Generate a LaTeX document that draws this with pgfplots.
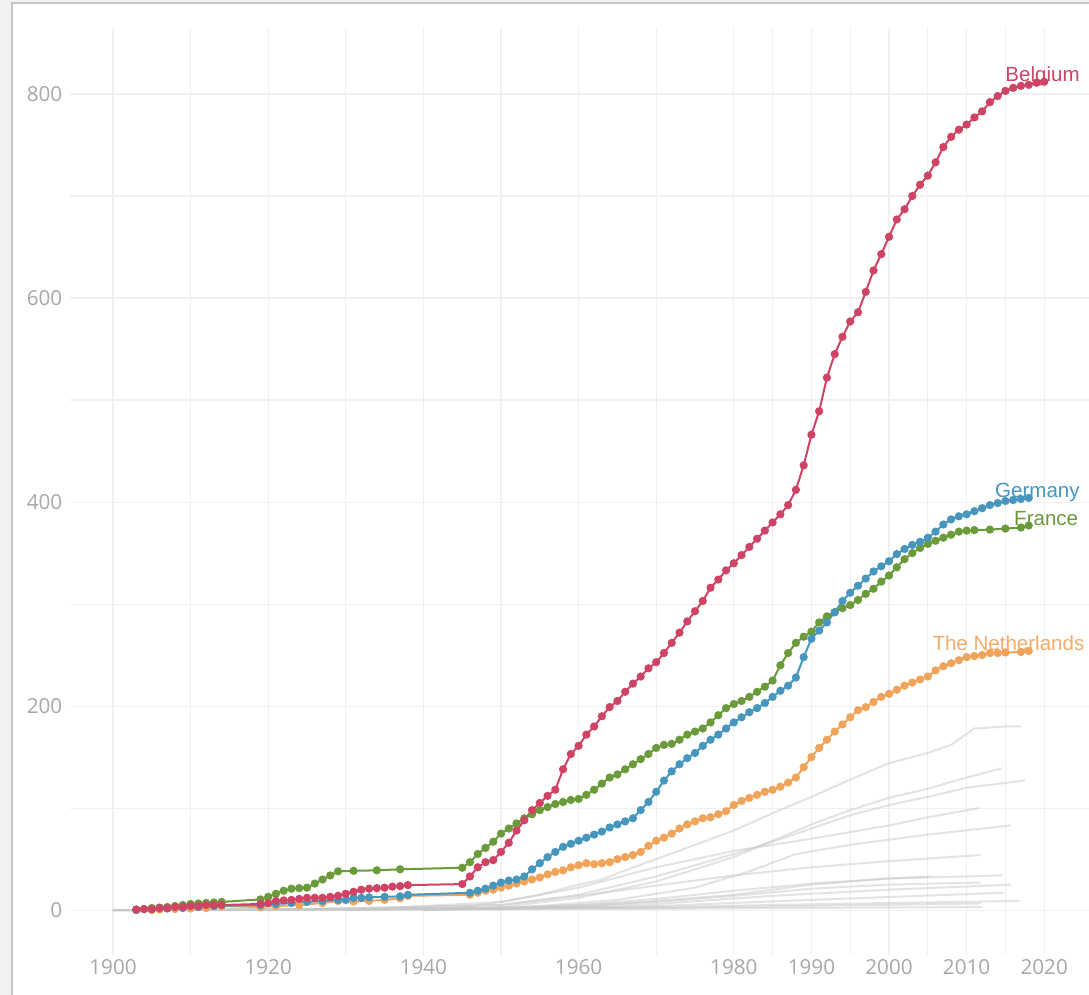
\documentclass[border=0pt]{standalone}
\usepackage{pgfplots}
\pgfplotsset{compat=1.18}
\usepackage{fontspec}
\setmainfont{Open Sans}
\newfontfamily\labfont{Liberation Sans}
\definecolor{bel}{HTML}{CF4364}
\definecolor{ger}{HTML}{4796BE}
\definecolor{fra}{HTML}{6A9A3A}
\definecolor{ned}{HTML}{F0A45A}
\definecolor{grayl}{HTML}{C8C8C8}
\definecolor{gridc}{HTML}{F0F0F0}
\definecolor{tickc}{HTML}{A8A8A8}
\definecolor{bgc}{HTML}{F2F2F2}
\definecolor{framec}{HTML}{C6C6C6}
\begin{document}
\begin{tikzpicture}
\fill[bgc] (0,0) rectangle (816.75pt,746.25pt);
\useasboundingbox (0,0) rectangle (816.75pt,746.25pt);
\fill[white] (9pt,0) rectangle (816.75pt,744pt);
\draw[framec, line width=1.8pt] (9pt,0) -- (9pt,744pt) -- (816.75pt,744pt);
\begin{axis}[
  at={(52.5pt,30pt)}, anchor=south west,
  scale only axis, width=764.25pt, height=695.25pt,
  xmin=1894.46, xmax=2025.77, ymin=-44, ymax=864.7,
  axis line style={draw=none}, major tick length=0pt, minor tick length=0pt,
  xtick={1900,1920,1940,1960,1980,1990,2000,2010,2020},
  minor xtick={1910,1930,1950,1970,1985,1995,2005,2015},
  ytick={0,200,400,600,800}, minor ytick={100,300,500,700},
  grid=both,
  major grid style={gridc, line width=0.8pt},
  minor grid style={gridc, line width=0.8pt},
  ticklabel style={font=\fontsize{15.5}{18}\selectfont, text=tickc},
  /pgf/number format/assume math mode=true,
  /pgf/number format/1000 sep={},
  yticklabel style={xshift=-2.3pt},
  clip=false,
]
% other countries
\addplot[grayl, line width=1.5pt, opacity=0.5] coordinates {(1945,3)(1950,8)(1955,15)(1960,25)(1963,30)(1965,36)(1970,50)(1975,64)(1980,78)(1985,95)(1990,111)(1995,128)(2000,144)(2005,154)(2008,162)(2011,178)(2015,180)(2017,180)};
\addplot[grayl, line width=1.5pt, opacity=0.5] coordinates {(1930,0)(1950,3)(1960,12)(1970,28)(1975,40)(1980,52)(1985,68)(1990,84)(1995,98)(2000,110)(2005,119)(2010,130)(2014.5,139)};
\addplot[grayl, line width=1.5pt, opacity=0.5] coordinates {(1920,0)(1950,5)(1960,15)(1970,33)(1980,55)(1985,67)(1990,80)(1995,93)(2000,103)(2005,111)(2010,120)(2017.5,127)};
\addplot[grayl, line width=1.5pt, opacity=0.5] coordinates {(1930,0)(1950,8)(1960,22)(1970,42)(1980,58)(1990,70)(2000,83)(2005,91)(2011.6,100)};
\addplot[grayl, line width=1.5pt, opacity=0.5] coordinates {(1940,0)(1955,4)(1965,10)(1975,22)(1982,38)(1988,55)(1995,64)(2005,74)(2015.7,83)};
\addplot[grayl, line width=1.5pt, opacity=0.5] coordinates {(1920,0)(1950,5)(1960,14)(1970,24)(1980,34)(1990,42)(2000,48)(2011.8,54)};
\addplot[grayl, line width=1.5pt, opacity=0.5] coordinates {(1900,0)(1950,2)(1960,5)(1970,11)(1980,19)(1990,26)(2000,31)(2014.6,34)};
\addplot[grayl, line width=1.5pt, opacity=0.5] coordinates {(1940,0)(1960,3)(1980,15)(1990,25)(2000,31)(2005.5,33)};
\addplot[grayl, line width=1.5pt, opacity=0.5] coordinates {(1900,0)(1950,2)(1970,8)(1980,14)(1990,21)(2000,25)(2011.8,27)};
\addplot[grayl, line width=1.5pt, opacity=0.5] coordinates {(1900,0)(1950,1)(1970,6)(1985,14)(2000,20)(2015.7,25)};
\addplot[grayl, line width=1.5pt, opacity=0.5] coordinates {(1900,0)(1950,1)(1970,4)(1990,10)(2014.8,17)};
\addplot[grayl, line width=1.5pt, opacity=0.5] coordinates {(1900,0)(1970,3)(2000,7)(2016.8,9)};
\addplot[grayl, line width=1.5pt, opacity=0.5] coordinates {(1900,0)(1970,2)(2011.8,6.5)};
\addplot[grayl, line width=1.5pt, opacity=0.5] coordinates {(1900,0)(1960,1)(2012,3)};
% The Netherlands
\addplot[ned, line width=1.5pt, mark=*, mark size=2.3pt, mark options={solid,fill=ned,draw=ned}] coordinates {
(1905,0)(1906,0.5)(1908,1)(1910,1.5)(1912,2)(1914,4)(1919,3)(1921,4)(1924,5)(1927,7)(1929,9)(1931,8.5)(1933,9)(1935,10)(1937,11.5)(1938,14)
(1946,15)(1947,17)(1948,19)(1949,20)(1950,22)(1951,24)(1952,26)(1953,28)(1954,30)(1955,32)(1956,35)(1957,37.5)(1958,39)(1959,42)
(1960,44)(1961,46)(1962,45)(1963,46)(1964,47)(1965,50)(1966,52)(1967,54)(1968,57)(1969,63)(1970,68)(1971,71)(1972,75)(1973,80)(1974,84)
(1975,87)(1976,90)(1977,91)(1978,94)(1979,97)(1980,103)(1981,107)(1982,110)(1983,113)(1984,116)(1985,118)(1986,121)(1987,125)(1988,130)(1989,140)
(1990,150)(1991,159)(1992,167)(1993,175)(1994,182)(1995,189)(1996,196)(1997,199)(1998,204)(1999,209)(2000,212)(2001,216)(2002,220)(2003,223)(2004,226)
(2005,229)(2006,235)(2007,239)(2008,242)(2009,245)(2010,248)(2011,249)(2012,250)(2013,252)(2014,252)(2015,252.5)(2017,253)(2018,254)};
% France
\addplot[fra, line width=1.5pt, mark=*, mark size=2.3pt, mark options={solid,fill=fra,draw=fra}] coordinates {
(1903,0.5)(1904,1)(1905,2)(1906,2.5)(1907,3)(1908,4)(1909,5)(1910,6)(1911,6.5)(1912,7)(1913,7.5)(1914,8)
(1919,10.5)(1920,13)(1921,16)(1922,19)(1923,21)(1924,21.5)(1925,22)(1926,26)(1927,30)(1928,34)(1929,38)(1931,38.5)(1934,39)(1937,40)
(1945,41.5)(1946,47)(1947,55)(1948,61)(1949,67)(1950,75)(1951,80)(1952,85)(1953,90)(1954,94)(1955,98)(1956,101)(1957,104)(1958,106)(1959,108)
(1960,109)(1961,113)(1962,118)(1963,124)(1964,130)(1965,133)(1966,138)(1967,143)(1968,148)(1969,153)(1970,159)(1971,162)(1972,163)(1973,167)(1974,172)
(1975,175)(1976,178)(1977,184)(1978,191)(1979,198)(1980,202)(1981,205)(1982,209)(1983,214)(1984,219)(1985,225)(1986,240)(1987,252)(1988,262)(1989,268)
(1990,273)(1991,282)(1992,288)(1993,292)(1994,296)(1995,299)(1996,304)(1997,310)(1998,315)(1999,322)(2000,328)(2001,336)(2002,344)(2003,350)(2004,355)
(2005,359)(2006,362)(2007,365)(2008,368)(2009,371)(2010,372)(2011,372.5)(2013,373)(2015,374)(2017,375)(2018,377)};
% Germany
\addplot[ger, line width=1.5pt, mark=*, mark size=2.3pt, mark options={solid,fill=ger,draw=ger}] coordinates {
(1903,0)(1905,1)(1907,1.5)(1909,2)(1911,3)(1913,4)(1919,5)(1921,6)(1923,7)(1925,8)(1927,9)(1929,10)(1930,10)(1931,12)(1932,12)(1933,12.5)(1935,13)(1937,13.5)(1938,15)
(1946,17)(1947,19)(1948,21)(1949,24)(1950,27)(1951,29)(1952,30)(1953,33)(1954,40)(1955,46)(1956,52)(1957,57)(1958,62)(1959,65)
(1960,68)(1961,71)(1962,74)(1963,77)(1964,81)(1965,84)(1966,87)(1967,90)(1968,98)(1969,106)(1970,116)(1971,127)(1972,136)(1973,143)(1974,149)
(1975,154)(1976,161)(1977,167)(1978,172)(1979,178)(1980,184)(1981,189)(1982,194)(1983,198)(1984,203)(1985,209)(1986,215)(1987,220)(1988,228)(1989,248)
(1990,266)(1991,274)(1992,282)(1993,292)(1994,303)(1995,311)(1996,318)(1997,325)(1998,332)(1999,337)(2000,342)(2001,349)(2002,354)(2003,358)(2004,361)
(2005,365)(2006,371)(2007,378)(2008,383)(2009,386)(2010,388)(2011,391)(2012,394)(2013,397)(2014,399)(2015,401)(2016,402)(2017,403)(2018,404)};
% Belgium
\addplot[bel, line width=1.5pt, mark=*, mark size=2.3pt, mark options={solid,fill=bel,draw=bel}] coordinates {
(1903,0.5)(1904,1)(1905,1)(1906,2)(1907,2)(1908,3)(1909,3)(1910,4)(1911,4)(1912,5)(1913,5)(1914,5)
(1919,6)(1920,7)(1921,9)(1922,9.5)(1923,10)(1924,11)(1925,12)(1926,12)(1927,12)(1928,13)(1929,14)(1930,16)(1931,18)(1932,20)(1933,21)(1934,21.5)(1935,22)(1936,23)(1937,23.5)(1938,24.5)
(1945,25.5)(1946,33)(1947,42)(1948,47)(1949,49)(1950,57)(1951,66)(1952,78)(1953,88)(1954,98)(1955,105)(1956,112)(1957,118)(1958,138)(1959,153)
(1960,161)(1961,172)(1962,180)(1963,190)(1964,199)(1965,205)(1966,214)(1967,222)(1968,229)(1969,237)(1970,243)(1971,252)(1972,262)(1973,272)(1974,283)
(1975,293)(1976,303)(1977,316)(1978,324)(1979,333)(1980,340)(1981,348)(1982,356)(1983,364)(1984,372)(1985,380)(1986,388)(1987,397)(1988,412)(1989,436)
(1990,466)(1991,489)(1992,522)(1993,545)(1994,562)(1995,577)(1996,586)(1997,606)(1998,627)(1999,643)(2000,660)(2001,677)(2002,687)(2003,700)(2004,711)
(2005,720)(2006,733)(2007,748)(2008,758)(2009,765)(2010,770)(2011,777)(2012,783)(2013,792)(2014,798)(2015,803)(2016,806)(2017,808)(2018,809)(2019,811)(2020,812)};
% labels
\node[anchor=base east, text=bel, font=\labfont\fontsize{15.4}{18}\selectfont, inner sep=0pt] at (axis cs:2024.6,812) {Belgium};
\node[anchor=base east, text=ger, font=\labfont\fontsize{15.4}{18}\selectfont, inner sep=0pt] at (axis cs:2024.6,404) {Germany};
\node[anchor=base east, text=fra, font=\labfont\fontsize{15.4}{18}\selectfont, inner sep=0pt] at (axis cs:2024.4,377) {France};
\node[anchor=base east, text=ned!90!white, font=\labfont\fontsize{15.4}{18}\selectfont, inner sep=0pt] at (axis cs:2025.2,254) {The Netherlands};
\end{axis}
\end{tikzpicture}
\end{document}
